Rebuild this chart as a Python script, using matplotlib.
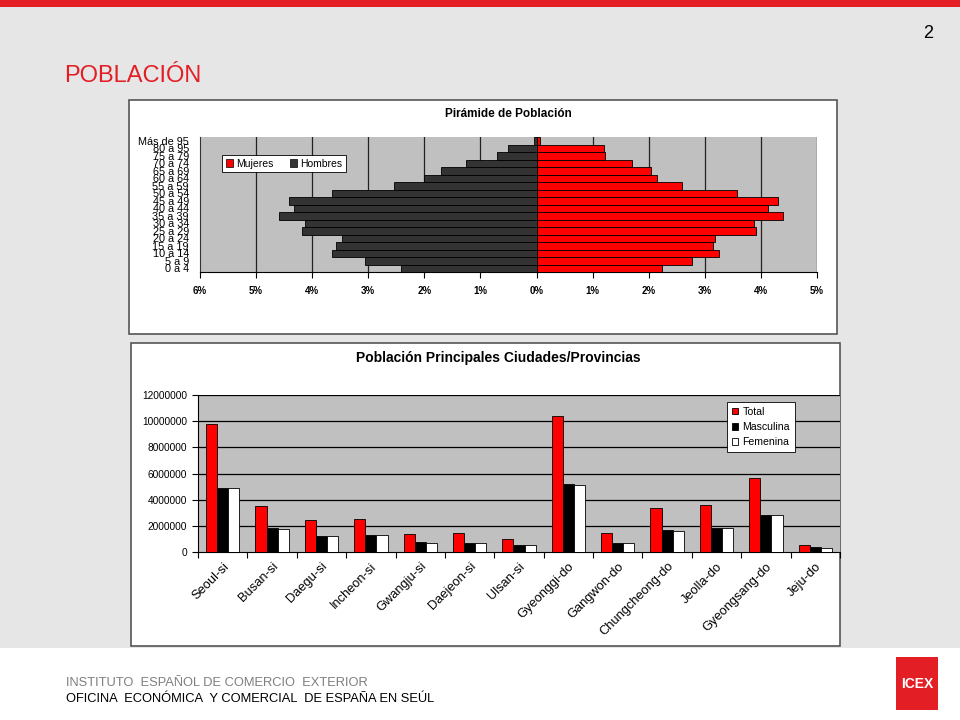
import matplotlib
matplotlib.use("Agg")
import matplotlib.pyplot as plt
from matplotlib.patches import Rectangle, Patch
import numpy as np

plt.rcParams['font.family'] = ['Liberation Sans', 'DejaVu Sans']

# ---------------- data ----------------
age_groups = ["0 a 4", "5 a 9", "10 a 14", "15 a 19", "20 a 24", "25 a 29",
              "30 a 34", "35 a 39", "40 a 44", "45 a 49", "50 a 54", "55 a 59",
              "60 a 64", "65 a 69", "70 a 74", "75 a 79", "80 a 95", "Más de 95"]
mujeres = [2.23, 2.78, 3.26, 3.15, 3.18, 3.92, 3.88, 4.39, 4.12, 4.30,
           3.58, 2.59, 2.14, 2.04, 1.70, 1.22, 1.21, 0.06]
hombres = [2.41, 3.06, 3.64, 3.57, 3.46, 4.18, 4.12, 4.60, 4.32, 4.41,
           3.64, 2.54, 2.01, 1.71, 1.25, 0.71, 0.51, 0.05]
pyr_ticks = [-6, -5, -4, -3, -2, -1, 0, 1, 2, 3, 4, 5]

cities = ["Seoul-si", "Busan-si", "Daegu-si", "Incheon-si", "Gwangju-si",
          "Daejeon-si", "Ulsan-si", "Gyeonggi-do", "Gangwon-do",
          "Chungcheong-do", "Jeolla-do", "Gyeongsang-do", "Jeju-do"]
total = [9760000, 3490000, 2470000, 2520000, 1400000, 1480000, 1020000,
         10410000, 1480000, 3390000, 3620000, 5640000, 560000]
masculina = [4870000, 1810000, 1250000, 1300000, 740000, 710000, 560000,
             5230000, 710000, 1710000, 1810000, 2830000, 360000]
femenina = [4920000, 1780000, 1250000, 1300000, 710000, 710000, 560000,
            5130000, 710000, 1610000, 1860000, 2830000, 300000]
bar_yticks = [0, 2000000, 4000000, 6000000, 8000000, 10000000, 12000000]

# ---------------- figure ----------------
W, H = 960, 720
fig = plt.figure(figsize=(9.6, 7.2), dpi=100)
fig.patch.set_facecolor('#e6e6e6')


def rect(x0, y0, x1, y1):
    return [x0 / W, 1 - y1 / H, (x1 - x0) / W, (y1 - y0) / H]


def frect(x0, y0, x1, y1, **kw):
    fig.patches.append(Rectangle((x0 / W, 1 - y1 / H), (x1 - x0) / W, (y1 - y0) / H,
                                 transform=fig.transFigure, figure=fig, **kw))


def ftext(x, y, s, **kw):
    fig.text(x / W, 1 - y / H, s, **kw)


RED = '#e31e24'
# top strip
frect(0, 0, 960, 7, facecolor=RED, edgecolor='none', zorder=0)
# footer
frect(0, 648, 960, 720, facecolor='white', edgecolor='none', zorder=0)
frect(896, 657, 938, 710, facecolor=RED, edgecolor='none', zorder=1)
ftext(917, 684, "ICEX", color='white', fontsize=10, fontweight='bold',
      ha='center', va='center', zorder=2)
ftext(66, 683, "INSTITUTO  ESPAÑOL DE COMERCIO  EXTERIOR", color='#7f7f7f',
      fontsize=9.3, ha='left', va='center')
ftext(66, 699, "OFICINA  ECONÓMICA  Y COMERCIAL  DE ESPAÑA EN SEÚL", color='black',
      fontsize=9.3, ha='left', va='center')

ftext(928, 34, "2", fontsize=13, ha='center', va='center', color='black')
ftext(64, 76, "POBLACIÓN", fontsize=17, ha='left', va='center', color=RED)

# chart boxes
frect(129, 100, 837, 334, facecolor='white', edgecolor='#555555', linewidth=1.2, zorder=0.5)
frect(131, 343, 840, 646, facecolor='white', edgecolor='#555555', linewidth=1.2, zorder=0.5)

# ---------------- pyramid ----------------
ax1 = fig.add_axes(rect(200, 137, 817, 272))
ax1.set_zorder(3)
ax1.set_facecolor('#c0c0c0')
y = np.arange(len(age_groups))
ax1.barh(y, [-v for v in hombres], height=1.0, color='#333333', edgecolor='black',
         linewidth=0.6, label='Hombres', zorder=3)
ax1.barh(y, mujeres, height=1.0, color='#ff0000', edgecolor='black',
         linewidth=0.6, label='Mujeres', zorder=3)
ax1.set_xlim(-6, 5)
ax1.set_ylim(-0.5, len(age_groups) - 0.5)
ax1.set_xticks(pyr_ticks)
ax1.set_xticklabels([f"{abs(t)}%" for t in pyr_ticks], fontsize=7, fontweight='bold')
ax1.set_yticks(y)
ax1.set_yticklabels(age_groups, fontsize=7.8)
ax1.tick_params(axis='y', length=0, pad=8)
ax1.tick_params(axis='x', length=4, width=0.8, direction='out', pad=6)
for t in pyr_ticks[1:]:
    ax1.axvline(t, color='#222222', linewidth=0.9, zorder=1)
for s in ['top', 'right']:
    ax1.spines[s].set_visible(False)
ax1.spines['left'].set_color('#333333')
ax1.spines['bottom'].set_color('black')
ax1.text(0.5, 1 + 23 / 135, "Pirámide de Población", transform=ax1.transAxes,
         ha='center', va='center', fontsize=8.5, fontweight='bold')
handles = [Patch(facecolor='#ff0000', edgecolor='black', linewidth=0.5),
           Patch(facecolor='#333333', edgecolor='black', linewidth=0.5)]
leg1 = ax1.legend(handles, ['Mujeres', 'Hombres'], ncol=2, fontsize=7.5,
                  loc='upper left', bbox_to_anchor=(22 / 617, 1 - 18 / 135),
                  frameon=True, fancybox=False, edgecolor='black', framealpha=1,
                  handlelength=0.7, handleheight=0.7, handletextpad=0.3,
                  columnspacing=1.6, borderpad=0.35, borderaxespad=0)
leg1.get_frame().set_linewidth(0.6)

# ---------------- bar chart ----------------
ax2 = fig.add_axes(rect(198, 395, 840, 552))
ax2.set_zorder(3)
ax2.set_facecolor('#c0c0c0')
x = np.arange(len(cities))
bw = 0.225
ax2.bar(x - bw, total, width=bw, color='#ff0000', edgecolor='black', linewidth=0.6,
        label='Total', zorder=3)
ax2.bar(x, masculina, width=bw, color='black', edgecolor='black', linewidth=0.6,
        label='Masculina', zorder=3)
ax2.bar(x + bw, femenina, width=bw, color='white', edgecolor='black', linewidth=0.6,
        label='Femenina', zorder=3)
ax2.set_xlim(-0.5, len(cities) - 0.5)
ax2.set_ylim(0, 12000000)
ax2.set_yticks(bar_yticks)
ax2.set_yticklabels([str(v) for v in bar_yticks], fontsize=7.3)
for v in bar_yticks[1:]:
    ax2.axhline(v, color='black', linewidth=0.9, zorder=1)
ax2.set_xticks(x)
ax2.set_xticklabels(cities, rotation=45, ha='right', va='top', rotation_mode='anchor',
                    fontsize=9.3)
ax2.tick_params(axis='x', length=0, pad=6)
ax2.set_xticks(np.arange(-0.5, len(cities), 1.0), minor=True)
ax2.tick_params(axis='x', which='minor', length=4, width=0.8, direction='out')
ax2.tick_params(axis='y', length=4, width=0.8, direction='out', pad=4)
for s in ['top', 'right']:
    ax2.spines[s].set_visible(False)
ax2.spines['left'].set_color('black')
ax2.spines['bottom'].set_color('black')
ax2.text(300 / 642, 1 + 37 / 157, "Población Principales Ciudades/Provincias",
         transform=ax2.transAxes, ha='center', va='center', fontsize=10,
         fontweight='bold')
leg2 = ax2.legend(fontsize=7.6, loc='upper left',
                  bbox_to_anchor=(529 / 642, 1 - 7 / 157),
                  frameon=True, fancybox=False, edgecolor='black', framealpha=1,
                  handlelength=0.6, handleheight=0.6, handletextpad=0.4,
                  labelspacing=0.5, borderpad=0.45, borderaxespad=0)
leg2.get_frame().set_linewidth(0.6)

fig.savefig("out.png", dpi=100, facecolor=fig.get_facecolor())
